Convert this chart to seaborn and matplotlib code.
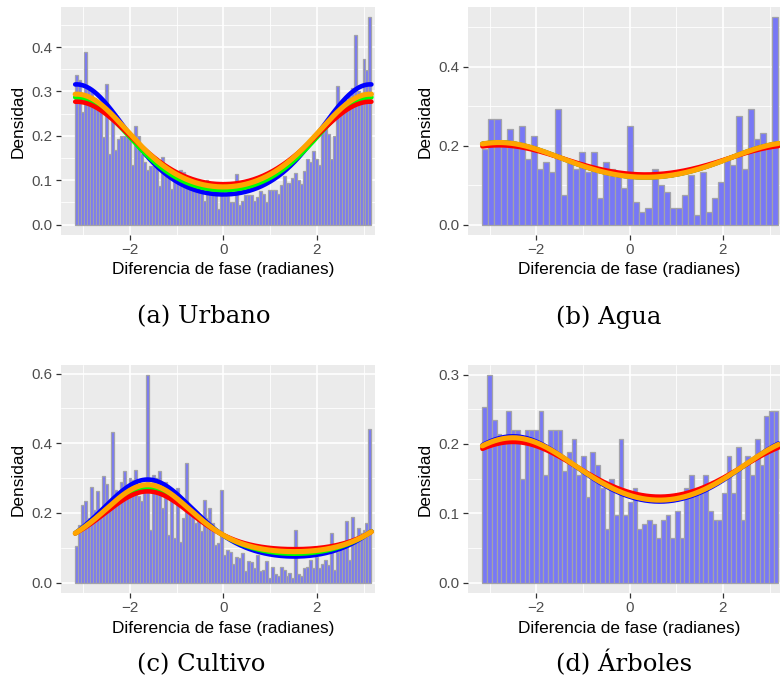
import numpy as np
import pandas as pd
import matplotlib
matplotlib.use("Agg")
import matplotlib.pyplot as plt
from matplotlib.ticker import FixedLocator, FormatStrFormatter
import seaborn as sns

W, H, DPI = 780, 687, 100

# Histogram heights on the density scale, bins ordered from -pi to pi
urbano_density = [
    0.338, 0.326, 0.253, 0.389, 0.311, 0.300, 0.285, 0.275, 0.265, 0.197,
    0.316, 0.159, 0.255, 0.169, 0.192, 0.200, 0.200, 0.207, 0.207, 0.135,
    0.223, 0.200, 0.159, 0.140, 0.122, 0.133, 0.133, 0.139, 0.088, 0.152,
    0.127, 0.129, 0.080, 0.112, 0.112, 0.122, 0.118, 0.107, 0.107, 0.080,
    0.080, 0.080, 0.073, 0.054, 0.100, 0.092, 0.080, 0.076, 0.035, 0.075,
    0.065, 0.065, 0.052, 0.050, 0.113, 0.044, 0.054, 0.067, 0.067, 0.067,
    0.054, 0.062, 0.075, 0.069, 0.052, 0.077, 0.077, 0.077, 0.069, 0.090,
    0.110, 0.094, 0.094, 0.105, 0.117, 0.100, 0.092, 0.120, 0.148, 0.140,
    0.165, 0.147, 0.135, 0.222, 0.222, 0.205, 0.147, 0.200, 0.312, 0.260,
    0.270, 0.280, 0.290, 0.307, 0.428, 0.300, 0.290, 0.374, 0.348, 0.467,
]
agua_density = [
    0.192, 0.267, 0.267, 0.200, 0.242, 0.200, 0.250, 0.167, 0.225, 0.142,
    0.158, 0.133, 0.292, 0.075, 0.158, 0.142, 0.183, 0.133, 0.183, 0.067,
    0.158, 0.142, 0.133, 0.092, 0.250, 0.058, 0.033, 0.042, 0.142, 0.100,
    0.083, 0.042, 0.042, 0.075, 0.125, 0.025, 0.133, 0.033, 0.067, 0.108,
    0.167, 0.150, 0.275, 0.142, 0.292, 0.217, 0.233, 0.200, 0.525,
]
cultivo_density = [
    0.104, 0.166, 0.224, 0.235, 0.185, 0.274, 0.209, 0.264, 0.200, 0.305,
    0.283, 0.220, 0.432, 0.265, 0.255, 0.289, 0.320, 0.252, 0.300, 0.296,
    0.322, 0.248, 0.233, 0.280, 0.595, 0.152, 0.310, 0.300, 0.320, 0.214,
    0.290, 0.137, 0.250, 0.128, 0.272, 0.118, 0.185, 0.344, 0.219, 0.200,
    0.170, 0.190, 0.147, 0.238, 0.185, 0.214, 0.171, 0.108, 0.113, 0.267,
    0.080, 0.094, 0.087, 0.053, 0.075, 0.070, 0.084, 0.032, 0.062, 0.060,
    0.041, 0.080, 0.032, 0.036, 0.062, 0.012, 0.046, 0.025, 0.020, 0.045,
    0.036, 0.019, 0.027, 0.012, 0.150, 0.024, 0.020, 0.041, 0.046, 0.065,
    0.043, 0.075, 0.041, 0.053, 0.065, 0.051, 0.142, 0.036, 0.089, 0.118,
    0.118, 0.176, 0.065, 0.187, 0.132, 0.158, 0.142, 0.150, 0.171, 0.440,
]
arboles_density = [
    0.253, 0.299, 0.234, 0.214, 0.212, 0.247, 0.220, 0.220, 0.149, 0.220,
    0.220, 0.220, 0.247, 0.155, 0.220, 0.220, 0.220, 0.161, 0.188, 0.207,
    0.155, 0.182, 0.123, 0.188, 0.170, 0.136, 0.078, 0.149, 0.098, 0.207,
    0.098, 0.117, 0.136, 0.078, 0.084, 0.091, 0.084, 0.065, 0.091, 0.098,
    0.065, 0.104, 0.065, 0.136, 0.155, 0.136, 0.130, 0.155, 0.104, 0.091,
    0.091, 0.130, 0.182, 0.130, 0.195, 0.091, 0.182, 0.155, 0.207, 0.169,
    0.240, 0.247, 0.247,
]

# Histogram range used for binning each panel
urbano_range = (-3.171, 3.168)
agua_range = (-3.155, 3.190)
cultivo_range = (-3.171, 3.168)
arboles_range = (-3.155, 3.190)

# Fitted circular densities (blue, green, red, orange): mean direction,
# value at the mode, a quarter turn away from it, and at the antimode
fit_colors = ["#0000FF", "#00FF00", "#FF0000", "#FFA500"]
fit_widths = [3.3, 3.3, 3.3, 3.7]
urbano_mu = np.pi
urbano_max = [0.316, 0.287, 0.277, 0.294]
urbano_mid = [0.147, 0.150, 0.159, 0.158]
urbano_min = [0.068, 0.078, 0.091, 0.085]
agua_mu = -2.80
agua_max = [0.208, 0.208, 0.201, 0.208]
agua_mid = [0.158, 0.158, 0.160, 0.158]
agua_min = [0.120, 0.120, 0.127, 0.120]
cultivo_mu = -1.62
cultivo_max = [0.296, 0.272, 0.262, 0.281]
cultivo_mid = [0.140, 0.140, 0.140, 0.140]
cultivo_min = [0.075, 0.083, 0.096, 0.089]
arboles_mu = -2.50
arboles_max = [0.211, 0.207, 0.203, 0.209]
arboles_mid = [0.157, 0.158, 0.159, 0.158]
arboles_min = [0.117, 0.120, 0.124, 0.119]

x_ticks = [-2, 0, 2]
x_minor = [-3, -1, 1, 3]
urbano_yticks = [0.0, 0.1, 0.2, 0.3, 0.4]
agua_yticks = [0.0, 0.2, 0.4]
cultivo_yticks = [0.0, 0.2, 0.4, 0.6]
arboles_yticks = [0.0, 0.1, 0.2, 0.3]

x_label = "Diferencia de fase (radianes)"
y_label = "Densidad"
captions = ["(a) Urbano", "(b) Agua", "(c) Cultivo", "(d) Árboles"]

sns.set_theme(style="darkgrid")
plt.rcParams["font.family"] = ["Liberation Sans", "DejaVu Sans"]

fig = plt.figure(figsize=(W / DPI, H / DPI), dpi=DPI)
fig.patch.set_facecolor("white")

# panel rectangles in pixels: left, top, right, bottom
left_box = (61, 7, 375, 235)
right_box = (468, 7, 780, 235)
left_box2 = (61, 365, 375, 593)
right_box2 = (468, 365, 780, 593)
xlims = {"left": (-3.475, 3.245), "right": (-3.464, 3.225)}


def circular_curve(theta, mu, top, mid, low):
    """Smooth circular density through its mode, quarter-turn and antimode values."""
    c = np.cos(theta - mu)
    a = np.log(mid)
    b = (np.log(top) - np.log(low)) / 2
    d = (np.log(top) + np.log(low)) / 2 - a
    return np.exp(a + b * c + d * c ** 2)


def add_panel(box, side, density, rng, mu, maxs, mids, mins, yticks):
    l, t, r, b = box
    ax = fig.add_axes([l / W, 1 - b / H, (r - l) / W, (b - t) / H])
    ax.set_facecolor("#EBEBEB")

    n = len(density)
    width = (rng[1] - rng[0]) / n
    centers = rng[0] + width * (np.arange(n) + 0.5)
    df = pd.DataFrame({"fase": centers, "densidad": density})
    sns.histplot(data=df, x="fase", weights="densidad", bins=n,
                 binrange=rng, stat="count", ax=ax, color="#7878F6",
                 alpha=1.0, edgecolor="#A3A3A8", linewidth=0.9, zorder=2)

    grid = np.linspace(rng[0], rng[1], 500)
    for col, lw, pk, md, tr in zip(fit_colors, fit_widths, maxs, mids, mins):
        curve = circular_curve(grid, mu, pk, md, tr)
        sns.lineplot(x=grid, y=curve, color=col, lw=lw, ax=ax,
                     sort=False, estimator=None, zorder=3)

    ymax = max(density)
    ax.set_ylim(-0.05 * ymax, 1.05 * ymax)
    x0, x1 = xlims[side]
    ax.set_xlim(x0, x1)

    ax.xaxis.set_major_locator(FixedLocator(x_ticks))
    ax.xaxis.set_minor_locator(FixedLocator(x_minor))
    ax.yaxis.set_major_locator(FixedLocator(yticks))
    step = yticks[1] - yticks[0]
    ax.yaxis.set_minor_locator(FixedLocator([v + step / 2 for v in yticks]))
    ax.yaxis.set_major_formatter(FormatStrFormatter("%.1f"))

    ax.grid(True, which="major", color="white", lw=1.2, zorder=0)
    ax.grid(True, which="minor", color="white", lw=0.6, zorder=0)
    ax.set_axisbelow(True)
    for s in ax.spines.values():
        s.set_visible(False)

    ax.tick_params(axis="both", which="major", length=3.8, width=0.9,
                   color="#333333", labelcolor="#4D4D4D", labelsize=10.9,
                   pad=2.2, bottom=True, left=True)
    ax.tick_params(axis="both", which="minor", length=0)

    ax.set_xlabel(x_label, fontsize=12.4, color="black")
    ax.set_ylabel(y_label, fontsize=12.4, color="black")
    ax.xaxis.set_label_coords((0 - x0) / (x1 - x0), -35 / (b - t))
    ax.xaxis.label.set_verticalalignment("center")
    ax.yaxis.set_label_coords(-42.5 / (r - l), 0.5)
    ax.yaxis.label.set_verticalalignment("center")
    return ax


add_panel(left_box, "left", urbano_density, urbano_range, urbano_mu,
          urbano_max, urbano_mid, urbano_min, urbano_yticks)
add_panel(right_box, "right", agua_density, agua_range, agua_mu,
          agua_max, agua_mid, agua_min, agua_yticks)
add_panel(left_box2, "left", cultivo_density, cultivo_range, cultivo_mu,
          cultivo_max, cultivo_mid, cultivo_min, cultivo_yticks)
add_panel(right_box2, "right", arboles_density, arboles_range, arboles_mu,
          arboles_max, arboles_mid, arboles_min, arboles_yticks)

# sub-figure captions, placed by baseline
caption_pos = [(137, 323.5), (556, 323.5), (137, 671.5), (556, 671.5)]
for (cx, cy), txt in zip(caption_pos, captions):
    fig.text(cx / W, 1 - cy / H, txt, ha="left", va="baseline",
             fontsize=17.5, family=["DejaVu Serif"], color="black")

fig.savefig("out.png", dpi=DPI, facecolor="white")
